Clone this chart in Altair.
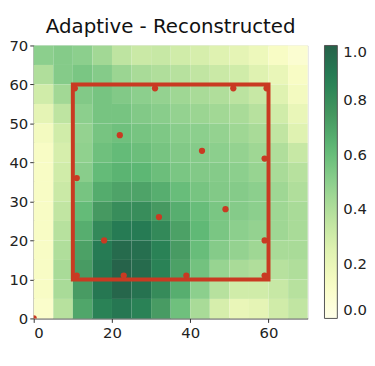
import altair as alt
import pandas as pd

TITLE = "Adaptive - Reconstructed"

# grid cell centres (data units)
X_CENTERS = [2.5, 7.5, 12.5, 17.5, 22.5, 27.5, 32.5, 37.5, 42.5, 47.5, 52.5, 57.5, 62.5, 67.5]
Y_CENTERS = [67.5, 62.5, 57.5, 52.5, 47.5, 42.5, 37.5, 32.5, 27.5, 22.5, 17.5, 12.5, 7.5, 2.5]

# reconstructed field values, one row per Y_CENTERS entry (top to bottom)
FIELD = [
    [0.50, 0.52, 0.50, 0.44, 0.36, 0.32, 0.33, 0.30, 0.28, 0.25, 0.22, 0.18, 0.12, 0.08],
    [0.40, 0.52, 0.55, 0.52, 0.46, 0.42, 0.40, 0.38, 0.35, 0.32, 0.30, 0.25, 0.20, 0.12],
    [0.30, 0.44, 0.53, 0.56, 0.53, 0.50, 0.48, 0.45, 0.42, 0.40, 0.37, 0.33, 0.25, 0.15],
    [0.22, 0.36, 0.50, 0.56, 0.56, 0.53, 0.51, 0.48, 0.46, 0.44, 0.42, 0.38, 0.30, 0.20],
    [0.15, 0.30, 0.48, 0.56, 0.58, 0.56, 0.54, 0.51, 0.50, 0.48, 0.45, 0.42, 0.35, 0.25],
    [0.12, 0.28, 0.49, 0.58, 0.61, 0.59, 0.56, 0.53, 0.52, 0.50, 0.48, 0.45, 0.40, 0.33],
    [0.12, 0.30, 0.51, 0.61, 0.64, 0.63, 0.59, 0.55, 0.53, 0.52, 0.50, 0.47, 0.42, 0.38],
    [0.12, 0.32, 0.56, 0.67, 0.70, 0.70, 0.66, 0.60, 0.56, 0.53, 0.52, 0.50, 0.45, 0.40],
    [0.12, 0.35, 0.61, 0.74, 0.80, 0.80, 0.74, 0.66, 0.60, 0.55, 0.52, 0.50, 0.45, 0.42],
    [0.12, 0.38, 0.66, 0.82, 0.89, 0.89, 0.82, 0.71, 0.62, 0.55, 0.50, 0.48, 0.45, 0.42],
    [0.12, 0.40, 0.71, 0.89, 0.96, 0.94, 0.86, 0.73, 0.60, 0.52, 0.48, 0.45, 0.42, 0.42],
    [0.12, 0.42, 0.73, 0.91, 0.99, 0.96, 0.86, 0.71, 0.57, 0.47, 0.42, 0.40, 0.38, 0.40],
    [0.12, 0.42, 0.73, 0.91, 0.98, 0.93, 0.81, 0.66, 0.50, 0.38, 0.30, 0.30, 0.33, 0.38],
    [0.10, 0.38, 0.69, 0.86, 0.91, 0.86, 0.73, 0.58, 0.42, 0.28, 0.20, 0.22, 0.30, 0.35],
]
CELL = 5.0

# sampling boundary (rectangle corners)
RECT_X = [10]
RECT_X2 = [60]
RECT_Y = [10]
RECT_Y2 = [60]

# sample locations
PTS_X = [0, 10.5, 31, 51, 59.5, 11, 59, 59, 11, 23, 39, 59, 22, 43, 32, 49, 18]
PTS_Y = [0, 59, 59, 59, 59, 36, 41, 20, 11, 11, 11, 11, 47, 43, 26, 28, 20]

COLOR_STOPS = [0, 0.125, 0.25, 0.375, 0.5, 0.625, 0.75, 0.875, 1.0]
COLORS = ["#ffffe9", "#f8fcc4", "#dff2b1", "#b9e29f", "#8ccf8d",
          "#5eb875", "#44965f", "#267f55", "#266149"]

rows = []
for j, yc in enumerate(Y_CENTERS):
    for i, xc in enumerate(X_CENTERS):
        rows.append({"x0": xc - CELL / 2, "x1": xc + CELL / 2,
                     "y0": yc - CELL / 2, "y1": yc + CELL / 2,
                     "v": FIELD[j][i]})
grid = pd.DataFrame(rows)
rect = pd.DataFrame({"x": RECT_X, "x2": RECT_X2, "y": RECT_Y, "y2": RECT_Y2})
pts = pd.DataFrame({"x": PTS_X, "y": PTS_Y})

xscale = alt.Scale(domain=[0, 70], nice=False, zero=False)
yscale = alt.Scale(domain=[0, 70], nice=False, zero=False)

LABEL_SIZE = 15


def xaxis():
    return alt.Axis(values=[0, 20, 40, 60], title=None, grid=False,
                    labelFontSize=LABEL_SIZE, tickColor="#333", domainColor="#333",
                    labelColor="#222", labelPadding=3, tickSize=4, labelOverlap=False)


def yaxis():
    return alt.Axis(values=[0, 10, 20, 30, 40, 50, 60, 70], title=None, grid=False,
                    labelFontSize=LABEL_SIZE, tickColor="#333", domainColor="#333",
                    labelColor="#222", labelPadding=2, tickSize=4,
                    labelOverlap=False)


heat = alt.Chart(grid).mark_rect(stroke=None).encode(
    x=alt.X("x0:Q", scale=xscale, axis=xaxis()),
    x2="x1:Q",
    y=alt.Y("y0:Q", scale=yscale, axis=yaxis()),
    y2="y1:Q",
    color=alt.Color("v:Q",
                    scale=alt.Scale(domain=COLOR_STOPS, range=COLORS, type="linear"),
                    legend=alt.Legend(title=None, values=[0, 0.2, 0.4, 0.6, 0.8, 1.0],
                                      format=".1f", gradientLength=276,
                                      gradientThickness=13, labelFontSize=LABEL_SIZE,
                                      labelColor="#222", offset=17, labelOffset=6,
                                      gradientStrokeColor="#555",
                                      gradientStrokeWidth=1)),
)

box = alt.Chart(rect).mark_rect(filled=False, stroke="#c93a22", strokeWidth=4).encode(
    x=alt.X("x:Q", scale=xscale, axis=xaxis()), x2="x2:Q",
    y=alt.Y("y:Q", scale=yscale, axis=yaxis()), y2="y2:Q",
)

dots = alt.Chart(pts).mark_circle(color="#c93a22", size=40, opacity=1, clip=True).encode(
    x=alt.X("x:Q", scale=xscale, axis=xaxis()),
    y=alt.Y("y:Q", scale=yscale, axis=yaxis()),
)

chart = alt.layer(heat, box, dots).properties(
    width=277, height=276,
    padding={"top": 7, "left": 0, "right": 0, "bottom": 5},
    title=alt.TitleParams(TITLE, fontSize=20, fontWeight="normal", color="#111",
                          font="DejaVu Sans", offset=2),
).configure_view(stroke="#555", strokeWidth=1).configure(
    font="DejaVu Sans"
)

chart.save("out.html", embed_options={"renderer": "svg", "actions": False})
